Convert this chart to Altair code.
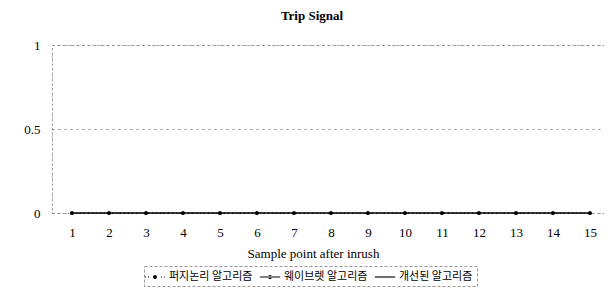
import altair as alt
import pandas as pd

samples = list(range(1, 16))
series_names = ["퍼지논리 알고리즘", "웨이브렛 알고리즘", "개선된 알고리즘"]
fuzzy_vals = [0] * 15
wavelet_vals = [0] * 15
improved_vals = [0] * 15

rows = []
for name, vals in zip(series_names, [fuzzy_vals, wavelet_vals, improved_vals]):
    for s, v in zip(samples, vals):
        rows.append({"sample": s, "trip": v, "algo": name})
df = pd.DataFrame(rows)

SERIF = "Liberation Serif"
KFONT = "Noto Sans CJK KR"

x_enc = alt.X("sample:Q",
              scale=alt.Scale(domain=[0.46, 15.38], nice=False, zero=False),
              axis=alt.Axis(values=samples, title="Sample point after inrush",
                            domain=False, ticks=False, grid=False,
                            labelFont=SERIF, labelFontSize=13, labelColor="black",
                            labelPadding=13, titleFont=SERIF, titleFontSize=13,
                            titleFontWeight="normal", titleColor="black",
                            titlePadding=8, titleX=261))
y_enc = alt.Y("trip:Q",
              scale=alt.Scale(domain=[0, 1], nice=False),
              axis=alt.Axis(values=[0, 0.5, 1], title=None, format="~g",
                            domain=True, domainColor="#888", domainDash=[1, 3],
                            ticks=False, grid=True, gridColor="#888",
                            gridDash=[2, 4], labelFont=SERIF, labelFontSize=13,
                            labelColor="black", labelPadding=12))

base = alt.Chart(df)

fuzzy_line = base.transform_filter(alt.datum.algo == series_names[0]).mark_line(
    color="black", strokeWidth=1, strokeDash=[1, 3]
).encode(x=x_enc, y=y_enc)

solid_lines = base.transform_filter(alt.datum.algo != series_names[0]).mark_line(
    color="black", strokeWidth=1
).encode(x=x_enc, y=y_enc, detail="algo:N")

dots = base.transform_filter(alt.datum.algo != series_names[2]).mark_point(
    filled=True, color="black", size=14, shape="circle", opacity=1
).encode(x=x_enc, y=y_enc)


def seg(a, b, h=0.08):
    return f"M{a},{-h}L{b},{-h}L{b},{h}L{a},{h}Z"


def dot(r):
    return f"M{-r},0A{r},{r},0,1,0,{r},0A{r},{r},0,1,0,{-r},0Z"


paths = [
    seg(-1.45, -1.3) + seg(-1.0, -0.85) + seg(0.85, 1.0) + seg(1.3, 1.45) + dot(0.28),
    seg(-1.45, 1.45) + dot(0.3),
    seg(-1.45, 1.45),
]

legend_layer = base.mark_point(
    filled=True, color="black", size=1
).encode(
    x=x_enc, y=y_enc,
    shape=alt.Shape("algo:N",
                    scale=alt.Scale(domain=series_names, range=paths),
                    legend=alt.Legend(title=None, orient="none", direction="horizontal",
                                      legendX=92, legendY=221,
                                      symbolSize=196, symbolStrokeWidth=0,
                                      symbolFillColor="black",
                                      symbolOpacity=1,
                                      labelFont=KFONT, labelFontSize=11,
                                      labelColor="black", labelOffset=7,
                                      columnPadding=6, padding=4)),
)

chart = alt.layer(fuzzy_line, solid_lines, dots, legend_layer).properties(
    width=552, height=168,
    autosize=alt.AutoSizeParams(type="none"),
    padding={"left": 44, "top": 37, "right": 0, "bottom": 74},
    title=alt.Title("Trip Signal", font=SERIF, fontSize=13, fontWeight="bold",
                    color="black", offset=16, dx=-16),
).configure_view(
    stroke="#999", strokeDash=[2, 3]
).configure_legend(
    strokeColor="#999", strokeDash=[3, 2]
)

chart.save("out.html", embed_options={"renderer": "svg", "actions": False})
